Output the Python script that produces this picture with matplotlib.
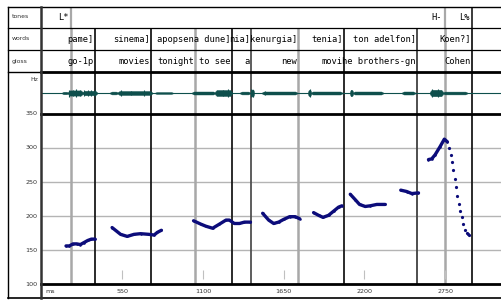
import numpy as np
import matplotlib.pyplot as plt
from matplotlib.lines import Line2D

# ---- data ----
# interval boundaries (ms) shared by the tiers and the signal panels
bounds = [201, 365, 746, 1046, 1298, 1428, 1748, 2062, 2559, 2747, 2934]
bound_cols = ['#a8a8a8', '#1a1a1a', '#1a1a1a', '#a8a8a8', '#1a1a1a', '#505050',
              '#a8a8a8', '#1a1a1a', '#404040', '#a8a8a8', '#1a1a1a']

tones = ['L*', 'H-', 'L%']
tone_ends = [201, 2747, 2934]
words = ['pame]', 'sinema]', 'apopsena dune]', 'nia]', 'kenurgia]', 'tenia]',
         'ton adelfon]', 'Koen?]']
word_ends = [365, 746, 1298, 1428, 1748, 2062, 2559, 2934]
gloss = ['go-1p', 'movies', 'tonight', 'to see', 'a', 'new', 'movi',
         'he brothers-gn', 'Cohen']
gloss_ends = [365, 746, 1046, 1298, 1428, 1748, 2062, 2559, 2934]

# pitch contour pieces (ms, Hz)
f0_t = [[167, 190, 215, 240, 265, 290, 315, 340, 365],
        [481, 539, 584, 630, 675, 733, 767, 790, 817],
        [1036, 1086, 1120, 1166, 1212, 1257, 1280, 1314, 1349, 1383, 1424],
        [1507, 1548, 1582, 1616, 1650, 1691, 1729, 1759],
        [1854, 1888, 1918, 1956, 1990, 2024, 2047],
        [2104, 2138, 2167, 2206, 2240, 2285, 2342],
        [2448, 2489, 2523, 2569],
        [2637, 2659, 2682, 2716, 2745, 2766]]
f0_hz = [[156, 156, 159, 159, 158, 161, 164, 166, 166],
         [183, 173, 170, 173, 174, 173, 172, 176, 179],
         [193, 188, 185, 182, 188, 194, 194, 189, 189, 191, 191],
         [204, 194, 189, 191, 195, 199, 199, 196],
         [205, 201, 198, 201, 207, 213, 215],
         [232, 224, 217, 214, 215, 217, 217],
         [238, 236, 233, 234],
         [283, 284, 290, 302, 313, 309]]
fall_t = [2779, 2788, 2798, 2807, 2816, 2825, 2834, 2845, 2854, 2863, 2875,
          2886, 2897, 2906, 2916]
fall_hz = [300, 290, 280, 268, 255, 243, 230, 218, 207, 198, 188, 179, 175,
           173, 172]

# waveform bursts: start ms, end ms, half amplitude (px)
burst_s = [140, 181, 280, 467, 520, 773, 1026, 1182, 1353, 1428, 1503, 1816,
           1837, 2102, 2123, 2457, 2647, 2736]
burst_e = [181, 280, 378, 520, 753, 896, 1182, 1298, 1421, 1448, 1741, 1837,
           2048, 2123, 2327, 2545, 2736, 2900]
burst_a = [1.2, 2.6, 2.2, 1.4, 2.0, 0.9, 1.5, 3.0, 1.4, 3.5, 1.5, 3.0,
           1.5, 3.0, 1.5, 1.5, 3.2, 1.4]
# single spikes inside the voiced stretches: ms, half amplitude (px)
spike_t = [190, 212, 236, 262, 290, 318, 340, 362, 545, 610, 700, 1240, 1270,
           1430, 1440, 1520, 1828, 2112, 2660, 2700]
spike_a = [3.5, 3.2, 3.8, 3.0, 3.4, 2.8, 3.0, 2.6, 2.6, 2.4, 2.6, 3.4, 3.6,
           4.0, 3.5, 2.4, 3.6, 3.4, 3.6, 3.8]

ms_ticks = [550, 1100, 1650, 2200, 2750]
hz_ticks = [100, 150, 200, 250, 300, 350]

XMAX = 3138
W_PX, H_PX = 502, 300
teal = '#0e4f4c'
navy = '#0c0c7a'
mono = 'DejaVu Sans Mono'

fig = plt.figure(figsize=(5.02, 3.0), dpi=100)


def fy(y):
    return 1 - y / H_PX


def fx(x):
    return x / W_PX


def hline(y, x0, x1, lw=1.0, c='black'):
    fig.add_artist(Line2D([fx(x0), fx(x1)], [fy(y), fy(y)], lw=lw, color=c,
                          transform=fig.transFigure))


def vline(x, y0, y1, lw=1.0, c='black'):
    fig.add_artist(Line2D([fx(x), fx(x)], [fy(y0), fy(y1)], lw=lw, color=c,
                          transform=fig.transFigure))


L = 41.5 / W_PX
W = (W_PX - 41.5) / W_PX


def row(top, bottom):
    ax = fig.add_axes([L, fy(bottom), W, (bottom - top) / H_PX])
    ax.set_xlim(0, XMAX)
    ax.set_xticks([])
    ax.set_yticks([])
    for s in ax.spines.values():
        s.set_visible(False)
    ax.patch.set_alpha(0)
    return ax


ax_t = row(7, 28)
ax_wd = row(28, 50)
ax_g = row(50, 72)
ax_w = row(72, 114)
ax_p = row(114, 284)
ax_ms = row(284, 298)

# tiers
for ax, labs, ends, pad in [(ax_t, tones, tone_ends, 18),
                            (ax_wd, words, word_ends, 8),
                            (ax_g, gloss, gloss_ends, 8)]:
    ax.set_ylim(0, 1)
    for lab, e in zip(labs, ends):
        ax.text(e - pad, 0.5, lab, ha='right', va='center', family=mono,
                fontsize=6.3, color='black')

for e in tone_ends:
    c = bound_cols[bounds.index(e)]
    ax_t.axvline(e, color=c, lw=1.6 if c == '#a8a8a8' else 1.2)
for ax in (ax_wd, ax_g, ax_w, ax_p):
    for b, c in zip(bounds, bound_cols):
        ax.axvline(b, color=c, lw=1.8 if c == '#a8a8a8' else 1.3, zorder=1)

# waveform
ax_w.set_ylim(-21, 21)
ax_w.axhline(0, color=teal, lw=0.8, zorder=2)
for s, e, a in zip(burst_s, burst_e, burst_a):
    r = min(12, (e - s) / 4)
    ax_w.fill_between([s, s + r, e - r, e], [-a * 0.4, -a, -a, -a * 0.4],
                      [a * 0.4, a, a, a * 0.4], color=teal, lw=0.3, zorder=3)
ax_w.vlines(spike_t, [-a for a in spike_a], spike_a, color=teal, lw=0.8,
            zorder=3)

# pitch panel
ax_p.set_ylim(100, 350)
for h in hz_ticks[1:-1]:
    ax_p.axhline(h, color='#b4b4b4', lw=1.0, zorder=0)
ax_p.vlines(ms_ticks, 108, 121, color='#c0c0c0', lw=0.8)
for t, h in zip(f0_t, f0_hz):
    ax_p.plot(t, h, color=navy, lw=2.4, marker='o', ms=1.8, mew=0, zorder=4,
              solid_capstyle='round')
ax_p.plot(fall_t, fall_hz, ls='none', color=navy, marker='o', ms=2.3, mew=0,
          zorder=4)
for h in hz_ticks:
    ax_p.text(-0.008 * XMAX, h, str(h), ha='right', va='center', fontsize=4.6,
              color='#333333')

# ms row
ax_ms.set_ylim(0, 1)
ax_ms.text(25, 0.45, 'ms', ha='left', va='center', fontsize=4.6, color='#333333')
for t in ms_ticks:
    ax_ms.text(t, 0.45, str(t), ha='center', va='center', fontsize=4.6,
               color='#333333')

# left column labels
for lab, y in [('tones', 17), ('words', 39), ('gloss', 61)]:
    fig.text(fx(12), fy(y), lab, ha='left', va='center', fontsize=4.4,
             color='#333333')
fig.text(fx(38), fy(80), 'Hz', ha='right', va='center', fontsize=4.4,
         color='#333333')

# frame
hline(7, 8, 502, 1.0)
hline(28, 8, 502, 0.9)
hline(50, 8, 502, 0.9)
hline(72, 8, 41, 1.0)
hline(72, 41, 502, 2.0)
hline(114, 41, 502, 2.0)
hline(284, 41, 502, 2.0)
hline(298, 8, 502, 1.2)
vline(8, 7, 298, 1.0)
vline(41.5, 7, 298, 1.8, '#333333')

fig.savefig('out.png', dpi=100)
